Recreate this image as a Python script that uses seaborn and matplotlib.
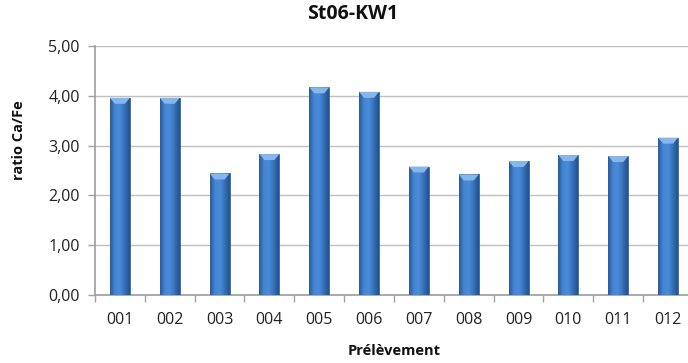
import numpy as np
import pandas as pd
import matplotlib
matplotlib.use("Agg")
import matplotlib.pyplot as plt
import seaborn as sns
from matplotlib.colors import LinearSegmentedColormap

categories = ["001", "002", "003", "004", "005", "006", "007", "008", "009", "010", "011", "012"]
values = [3.96, 3.96, 2.44, 2.83, 4.17, 4.08, 2.58, 2.42, 2.69, 2.81, 2.79, 3.16]
yticks = [0, 1, 2, 3, 4, 5]
ytick_labels = ["0,00", "1,00", "2,00", "3,00", "4,00", "5,00"]
title = "St06-KW1"
xlabel = "Prélèvement"
ylabel = "ratio Ca/Fe"

sns.set_theme(style="white")
plt.rcParams['font.family'] = ['Open Sans', 'DejaVu Sans']

df = pd.DataFrame({"cat": categories, "val": values})

fig = plt.figure(figsize=(6.88, 3.63), dpi=100)
ax = fig.add_axes([95/688, 1-295/363, 598/688, (295-46)/363])

sns.barplot(data=df, x="cat", y="val", ax=ax, color="#3F7FCC", width=0.4,
            edgecolor="#3467A8", linewidth=0.6, zorder=3, saturation=1)

# horizontal gradient on each bar (cylinder look)
cmap = LinearSegmentedColormap.from_list("bar", ["#2A5A96", "#4586D4", "#4A8CDA", "#3670B6", "#23508A"])
grad = np.linspace(0, 1, 64).reshape(1, -1)
for p in ax.patches:
    x0, y0 = p.get_x(), p.get_y()
    w, h = p.get_width(), p.get_height()
    im = ax.imshow(grad, cmap=cmap, aspect="auto", extent=[x0, x0 + w, y0, y0 + h],
                   zorder=4, interpolation="bicubic")
    im.set_clip_path(p)
    # top bevel cap
    ax.fill([x0, x0 + w, x0 + w*0.75, x0 + w*0.25], [y0 + h, y0 + h, y0 + h - 0.12, y0 + h - 0.12],
            color="#86B6EC", zorder=5, lw=0)

ax.set_xlim(-0.5, 11.5)
ax.set_ylim(0, 5)
ax.set_yticks(yticks)
ax.set_yticklabels(ytick_labels)
ax.yaxis.grid(True, color="#C0C0C0", linewidth=1.0, zorder=0)
ax.set_axisbelow(True)

ax.set_xticks(np.arange(-0.5, 12, 1))
ax.set_xticklabels([])
ax.set_xticks(np.arange(12), minor=True)
ax.set_xticklabels(categories, minor=True)
ax.tick_params(axis="x", which="major", length=5, color="#A0A0A0", width=1, direction="out")
ax.tick_params(axis="x", which="minor", length=0, pad=12, labelsize=11.5, labelcolor="#222222")
ax.tick_params(axis="y", length=5, color="#A0A0A0", width=1, direction="out", pad=6,
               labelsize=11.5, labelcolor="#222222")
ax.tick_params(left=True, bottom=True, which="major")

for s in ["top", "right"]:
    ax.spines[s].set_visible(False)
ax.spines["left"].set_color("#A0A0A0")
ax.spines["bottom"].set_color("#A0A0A0")

ax.set_xlabel("")
ax.set_ylabel("")
fig.text(394/688, 1-351/363, xlabel, ha="center", va="center", fontsize=10.5, fontweight="bold", color="#111111")
fig.text(19/688, 1-140/363, ylabel, ha="center", va="center", rotation=90, fontsize=10.5,
         fontweight="bold", color="#111111")
fig.text(353/688, 1-14/363, title, ha="center", va="center", fontsize=14, fontweight="bold", color="#111111")

fig.savefig("out.png", dpi=100)
